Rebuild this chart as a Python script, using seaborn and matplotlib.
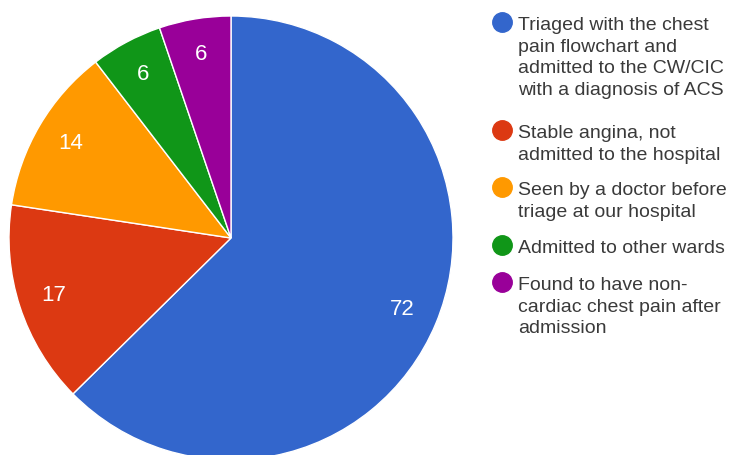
import matplotlib
matplotlib.use("Agg")
import matplotlib.pyplot as plt
from matplotlib.lines import Line2D
import seaborn as sns

# chart data
categories = [
    "Triaged with the chest\npain flowchart and\nadmitted to the CW/CIC\nwith a diagnosis of ACS",
    "Stable angina, not\nadmitted to the hospital",
    "Seen by a doctor before\ntriage at our hospital",
    "Admitted to other wards",
    "Found to have non-\ncardiac chest pain after\nadmission",
]
counts = [72, 17, 14, 6, 6]
colors = ["#3366CC", "#DC3912", "#FF9900", "#109618", "#990099"]

sns.set_theme(style="white")
plt.rcParams["font.family"] = ["Liberation Sans", "DejaVu Sans"]

W, H = 729, 455
fig = plt.figure(figsize=(W / 100, H / 100), dpi=100)

# pie: centre (231, 238) px, radius 222 px
cx, cy, r = 231, 238, 222
ax = fig.add_axes([(cx - r) / W, (H - cy - r) / H, 2 * r / W, 2 * r / H])
total = sum(counts)
wedges, _, autotexts = ax.pie(
    counts,
    colors=colors,
    startangle=90,
    counterclock=False,
    autopct=lambda p: f"{round(p * total / 100)}",
    pctdistance=0.838,
    wedgeprops={"edgecolor": "white", "linewidth": 1, "clip_on": False},
    textprops={"color": "white", "fontsize": 16},
)
ax.set_xlim(-1, 1)
ax.set_ylim(-1, 1)
ax.axis("off")

# legend drawn by hand to follow the original spacing
first_baselines = [30, 138, 195, 253, 290]
pitch = 21.7
text_x = 518
for label, color, y0 in zip(categories, colors, first_baselines):
    fig.add_artist(Line2D([502 / W], [1 - (y0 - 8) / H], marker="o", markersize=14,
                          color=color, linestyle="none", transform=fig.transFigure))
    for i, line in enumerate(label.split("\n")):
        fig.text(text_x / W, 1 - (y0 + i * pitch) / H, line, fontsize=14,
                 color="#3a3a3a", va="baseline", ha="left")

fig.savefig("out.png", dpi=100)
